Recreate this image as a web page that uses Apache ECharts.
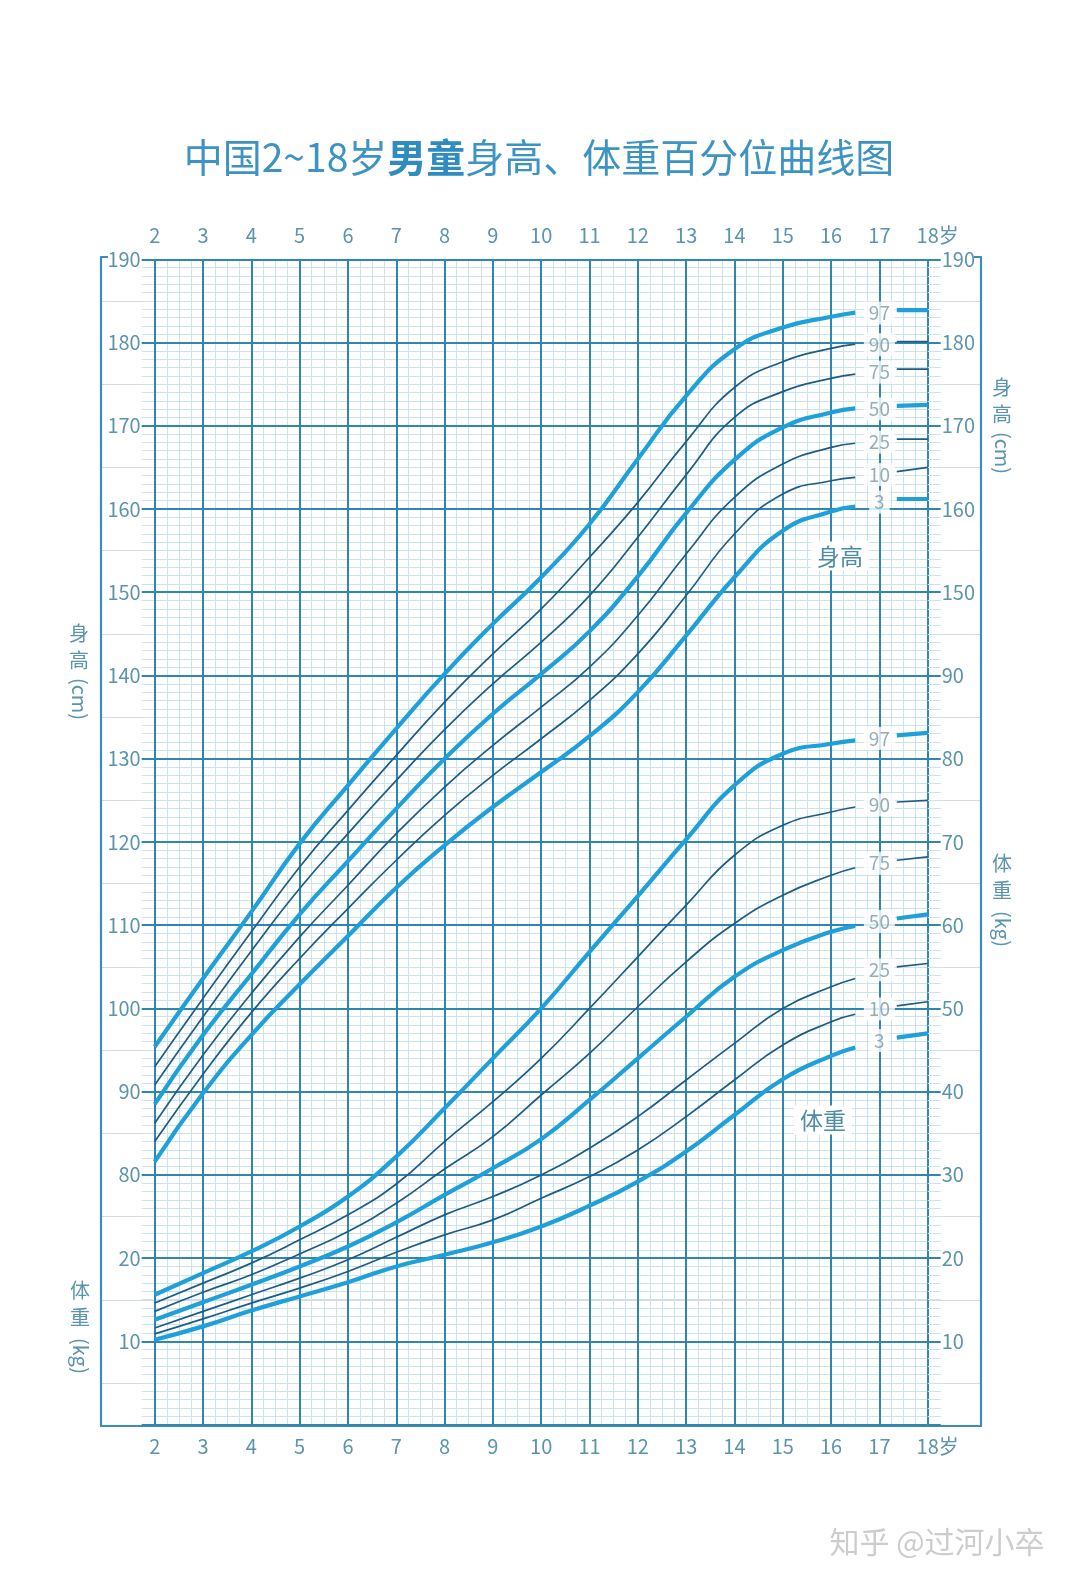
<!DOCTYPE html>
<html><head><meta charset="utf-8">
<script src="https://cdn.jsdelivr.net/npm/echarts@6/dist/echarts.min.js"></script>
<style>html,body{margin:0;padding:0;background:#fff}#c{width:1080px;height:1589px}</style>
</head><body><div id="c"></div>
<script>
// ---------------- data ----------------
const ages = [2,3,4,5,6,7,8,9,10,11,12,13,14,15,16,16.5];
const percentiles = ['3','10','25','50','75','90','97'];

const heightP3  = [81.6,89.8,96.8,102.9,108.7,114.5,119.6,124.2,128.4,132.7,138.0,144.8,151.8,157.4,159.7,160.3];
const heightP10 = [84.0,92.1,99.5,106.0,112.0,117.8,123.2,128.0,132.4,137.0,142.6,149.6,157.0,161.8,163.4,163.8];
const heightP25 = [86.2,94.4,101.8,108.6,114.8,121.0,126.6,131.6,136.2,141.0,147.2,154.6,161.4,165.4,167.4,167.9];
const heightP50 = [88.5,96.8,104.1,111.3,117.7,124.0,130.0,135.4,140.2,145.3,151.9,159.5,165.9,169.8,171.6,172.1];
const heightP75 = [90.8,99.0,106.9,114.4,121.0,127.4,133.5,139.0,144.0,149.6,156.6,164.1,171.0,174.1,175.7,176.2];
const heightP90 = [93.0,101.2,109.2,117.0,123.8,130.4,136.8,142.6,148.0,154.2,160.8,168.1,174.6,177.7,179.3,179.8];
const heightP97 = [95.4,103.6,111.6,119.8,126.8,133.6,140.2,146.2,151.8,158.2,166.0,173.6,179.2,181.8,183.1,183.6];

const weightP3  = [10.2,11.8,13.7,15.4,17.1,19.0,20.4,21.9,23.8,26.3,29.2,32.8,37.2,41.5,44.3,45.3];
const weightP10 = [10.9,12.7,14.6,16.4,18.4,20.7,22.8,24.6,27.2,29.8,33.0,37.0,41.4,45.6,48.4,49.3];
const weightP25 = [11.6,13.6,15.6,17.6,19.8,22.5,25.2,27.4,30.0,33.2,37.0,41.4,45.8,50.0,52.6,53.6];
const weightP50 = [12.6,14.7,16.8,19.0,21.4,24.3,27.6,30.8,34.3,39.0,44.0,49.0,53.8,57.0,59.2,59.9];
const weightP75 = [13.6,15.9,18.0,20.5,23.2,26.6,30.7,34.6,39.6,44.6,50.2,55.6,60.2,63.6,66.0,66.9];
const weightP90 = [14.6,17.0,19.4,22.2,25.2,28.9,34.0,38.8,44.0,50.0,56.2,62.4,68.4,72.0,73.6,74.2];
const weightP97 = [15.6,18.2,20.8,23.8,27.4,32.2,38.0,44.0,50.0,56.8,63.5,70.3,76.8,80.6,81.8,82.2];

// values at 18 years, drawn as short stubs at the right edge
const stubAges = [17.36, 18];
const heightStubStart = [161.2,164.5,168.4,172.4,176.8,180.1,183.9];
const heightStubEnd   = [161.2,165.0,168.4,172.5,176.8,180.1,183.9];
const weightStubStart = [46.5,50.3,55.0,60.8,67.8,74.8,82.8];
const weightStubEnd   = [47.0,50.8,55.4,61.3,68.2,75.0,83.1];

// tick labels
const leftHeightTicks  = [80,90,100,110,120,130,140,150,160,170,180,190];
const leftWeightTicks  = [10,20];
const rightHeightTicks = [150,160,170,180,190];
const rightWeightTicks = [10,20,30,40,50,60,70,80,90];

// ---------------- styles ----------------
const C_MAJOR = '#2f86b0';
const C_FRAME = '#3a8fb8';
const C_MINOR = '#c9e4f0';
const C_FIVE  = '#d5dadd';
const C_LABEL = '#5a94ad';
const C_THICK = '#1fa0d8';
const C_THIN  = '#1d5c86';
const FONT = '"Noto Sans CJK SC","Noto Sans",sans-serif';
const WEIGHT_OFFSET = 50; // weight axis 0 sits at height-axis 50

const heightSets = [heightP3,heightP10,heightP25,heightP50,heightP75,heightP90,heightP97];
const weightSets = [weightP3,weightP10,weightP25,weightP50,weightP75,weightP90,weightP97];
const thickSet = {'3':true,'50':true,'97':true};

function lineStyleFor(p){
  return thickSet[p] ? {color:C_THICK,width:4.2} : {color:C_THIN,width:1.7};
}

const series = [];
function addGroup(sets, stubS, stubE, yIdx, kind){
  percentiles.forEach((p,i)=>{
    const ls = lineStyleFor(p);
    series.push({
      name: kind+p, type:'line', xAxisIndex:2, yAxisIndex:yIdx,
      data: ages.map((a,k)=>[a, sets[i][k]]),
      smooth:0.5, showSymbol:false, symbol:'none',
      lineStyle: ls, z: thickSet[p]?4:3, silent:true
    });
    series.push({
      name: kind+p+'stub', type:'line', xAxisIndex:2, yAxisIndex:yIdx,
      data: [[stubAges[0], stubS[i]],[stubAges[1], stubE[i]]],
      showSymbol:false, symbol:'none', lineStyle: ls, z:4, silent:true
    });
  });
  series.push({
    name: kind+'labels', type:'scatter', xAxisIndex:2, yAxisIndex:yIdx,
    symbolSize:0, z:6, silent:true,
    data: percentiles.map((p,i)=>[17, stubS[i], p]),
    label:{show:true, position:'inside', formatter:(pr)=>pr.data[2],
      color:'#7b98a8', fontSize:19, fontFamily:FONT, backgroundColor:'#fff',
      padding:[2,5,2,5], offset:[0,3]}
  });
}
addGroup(heightSets, heightStubStart, heightStubEnd, 3, 'h');
addGroup(weightSets, weightStubStart, weightStubEnd, 5, 'w');

const labelBase = {color:C_LABEL, fontSize:20, fontFamily:FONT};

function vertName(x, y0, c1, c2, unit){
  return [
    {type:'text', x:x, y:y0, z:20, style:{text:c1, fill:C_LABEL, font:'20px '+FONT, align:'center', verticalAlign:'middle'}},
    {type:'text', x:x, y:y0+27, z:20, style:{text:c2, fill:C_LABEL, font:'20px '+FONT, align:'center', verticalAlign:'middle'}},
    {type:'text', x:x+1, y:y0+66, rotation:-Math.PI/2, z:20, style:{text:unit, fill:C_LABEL, font:'20px '+FONT, align:'center', verticalAlign:'middle'}}
  ];
}

const option = {
  animation:false,
  backgroundColor:'#fff',
  grid:[
    {left:154.7, right:152.3, top:259.3, bottom:164.4},   // plot
    {left:101, right:99, top:300.9, bottom:206},           // light 5-lines to frame
    {left:101, right:99, top:257, bottom:163}              // frame
  ],
  xAxis:[
    {gridIndex:1, type:'value', min:0, max:1, show:false},
    {gridIndex:2, type:'value', min:0, max:1, position:'bottom',
      axisLine:{show:true, lineStyle:{color:C_FRAME, width:2.2}},
      axisTick:{show:false}, axisLabel:{show:false}, splitLine:{show:false}},
    {gridIndex:0, type:'value', min:2, max:18, interval:1, position:'bottom', z:0,
      axisLine:{show:false}, axisTick:{show:false},
      axisLabel:Object.assign({margin:12, formatter:(v)=> v===18 ? '{p|}18岁' : String(v),
        rich:{p:{width:20}}}, labelBase),
      splitLine:{show:false},
      minorTick:{show:false, splitNumber:4},
      minorSplitLine:{show:true, lineStyle:{color:C_MINOR, width:1}}},
    {gridIndex:0, type:'value', min:2, max:18, interval:1, position:'top', z:1,
      axisLine:{show:false}, axisTick:{show:false},
      axisLabel:Object.assign({margin:14, formatter:(v)=> v===18 ? '{p|}18岁' : String(v),
        rich:{p:{width:20}}}, labelBase),
      splitLine:{show:true, lineStyle:{color:C_MAJOR, width:2}}}
  ],
  yAxis:[
    {gridIndex:1, type:'value', min:55, max:185, interval:10, position:'left',
      axisLine:{show:false}, axisTick:{show:false}, axisLabel:{show:false},
      splitLine:{show:true, lineStyle:{color:C_FIVE, width:1}}},
    {gridIndex:2, type:'value', min:0, max:1, interval:1, position:'left',
      axisLine:{show:true, lineStyle:{color:C_FRAME, width:2.2}},
      axisTick:{show:true, inside:true, length:7, lineStyle:{color:C_FRAME, width:2}},
      axisLabel:{show:false}, splitLine:{show:false}},
    {gridIndex:2, type:'value', min:0, max:1, interval:1, position:'right',
      axisLine:{show:true, lineStyle:{color:C_FRAME, width:2.2}},
      axisTick:{show:true, inside:true, length:7, lineStyle:{color:C_FRAME, width:2}},
      axisLabel:{show:false}, splitLine:{show:false}},
    {gridIndex:0, type:'value', min:50, max:190, interval:10, position:'left', z:0,
      axisLine:{show:false},
      axisTick:{show:true, inside:false, length:13, lineStyle:{color:C_MAJOR, width:2}},
      minorTick:{show:true, splitNumber:10, length:13, lineStyle:{color:C_MINOR, width:1}},
      minorSplitLine:{show:true, lineStyle:{color:C_MINOR, width:1}},
      splitLine:{show:false},
      axisLabel:Object.assign({margin:14, formatter:(v)=>{
        if (leftHeightTicks.indexOf(v)>=0) return String(v);
        if (leftWeightTicks.indexOf(v-WEIGHT_OFFSET)>=0) return String(v-WEIGHT_OFFSET);
        return '';
      }}, labelBase)},
    {gridIndex:0, type:'value', min:50, max:190, interval:10, position:'right', z:1,
      axisLine:{show:false},
      axisTick:{show:true, inside:false, length:13, lineStyle:{color:C_MAJOR, width:2}},
      minorTick:{show:true, splitNumber:10, length:13, lineStyle:{color:C_MINOR, width:1}},
      splitLine:{show:true, lineStyle:{color:C_MAJOR, width:2}},
      axisLabel:Object.assign({margin:14, formatter:(v)=>{
        if (rightHeightTicks.indexOf(v)>=0) return String(v);
        if (rightWeightTicks.indexOf(v-WEIGHT_OFFSET)>=0) return String(v-WEIGHT_OFFSET);
        return '';
      }}, labelBase)},
    {gridIndex:0, type:'value', min:0, max:140, position:'left', show:false}
  ],
  series: series,
  graphic:[
    {type:'text', x:539, y:157, z:20, style:{
      text:'{n|中国2~18岁}{b|男童}{n|身高、体重百分位曲线图}',
      align:'center', verticalAlign:'middle',
      rich:{n:{fontSize:39, fontFamily:FONT, fill:'#3d93c2', color:'#3d93c2'},
            b:{fontSize:39, fontFamily:FONT, fontWeight:'bold', fill:'#2f8cc0', color:'#2f8cc0'}}}},
    ...vertName(79, 633, '身','高','(cm)'),
    ...vertName(80, 1290, '体','重','(kg)'),
    ...vertName(1002, 387, '身','高','(cm)'),
    ...vertName(1002, 863, '体','重','(kg)'),
    {type:'text', x:840, y:556, z:20, style:{text:'身高', fill:'#4d8ca7', font:'23px '+FONT,
      align:'center', verticalAlign:'middle', backgroundColor:'#fff', padding:[3,6]}},
    {type:'text', x:823, y:1120, z:20, style:{text:'体重', fill:'#4d8ca7', font:'23px '+FONT,
      align:'center', verticalAlign:'middle', backgroundColor:'#fff', padding:[3,6]}},
    {type:'text', x:937, y:1542, z:20, style:{text:'知乎 @过河小卒', fill:'#cdcdcd', font:'30px '+FONT,
      align:'center', verticalAlign:'middle'}}
  ]
};

const chart = echarts.init(document.getElementById('c'), null, {renderer:'canvas', width:1080, height:1589});
chart.setOption(option);
</script>
</body></html>
